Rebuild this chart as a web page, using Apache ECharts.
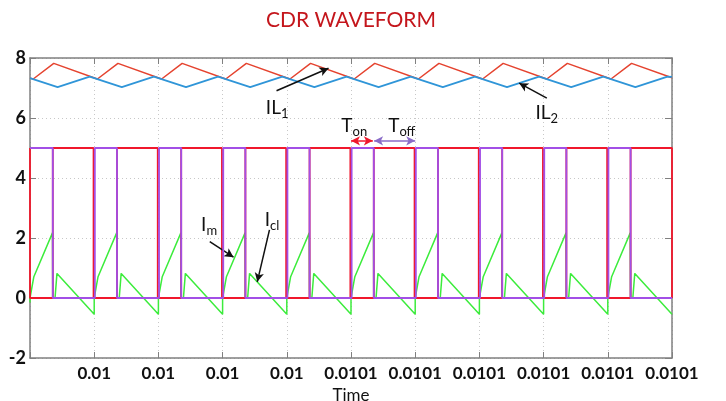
<!DOCTYPE html>
<html>
<head>
<meta charset="utf-8">
<script src="https://cdn.jsdelivr.net/npm/echarts@6/dist/echarts.min.js"></script>
<style>html,body{margin:0;padding:0;background:#fff}#c{width:726px;height:401px}</style>
</head>
<body>
<div id="c"></div>
<script>
// Tick labels along time axis (one per switching period)
var xTickLabels = ['', '0.01', '0.01', '0.01', '0.01', '0.0101', '0.0101', '0.0101', '0.0101', '0.0101', '0.0101'];
var yTicks = [-2, 0, 2, 4, 6, 8];

// Inductor current IL1 (red triangle)
var il1 = [[0,7.33],[0.05,7.30],[0.37,7.82],[1.05,7.30],[1.37,7.82],[2.05,7.30],[2.37,7.82],[3.05,7.30],[3.37,7.82],[4.05,7.30],[4.37,7.82],[5.05,7.30],[5.37,7.82],[6.05,7.30],[6.37,7.82],[7.05,7.30],[7.37,7.82],[8.05,7.30],[8.37,7.82],[9.05,7.30],[9.37,7.82],[10,7.34]];
// Inductor current IL2 (blue triangle)
var il2 = [[0,7.33],[0.43,7.03],[0.93,7.38],[1.43,7.03],[1.93,7.38],[2.43,7.03],[2.93,7.38],[3.43,7.03],[3.93,7.38],[4.43,7.03],[4.93,7.38],[5.43,7.03],[5.93,7.38],[6.43,7.03],[6.93,7.38],[7.43,7.03],[7.93,7.38],[8.43,7.03],[8.93,7.38],[9.43,7.03],[9.93,7.38],[10,7.37]];
// Gate signal 1 (red)
var gate1 = [[0,5],[0,0],[0.355,0],[0.355,5],[0.99,5],[0.99,0],[1.355,0],[1.355,5],[1.99,5],[1.99,0],[2.355,0],[2.355,5],[2.99,5],[2.99,0],[3.355,0],[3.355,5],[3.99,5],[3.99,0],[4.355,0],[4.355,5],[4.99,5],[4.99,0],[5.355,0],[5.355,5],[5.99,5],[5.99,0],[6.355,0],[6.355,5],[6.99,5],[6.99,0],[7.355,0],[7.355,5],[7.99,5],[7.99,0],[8.355,0],[8.355,5],[8.99,5],[8.99,0],[9.355,0],[9.355,5],[10,5],[10,0]];
// Gate signal 2 (purple)
var gate2 = [[0,5],[0.355,5],[0.355,0],[1.01,0],[1.01,5],[1.355,5],[1.355,0],[2.01,0],[2.01,5],[2.355,5],[2.355,0],[3.01,0],[3.01,5],[3.355,5],[3.355,0],[4.01,0],[4.01,5],[4.355,5],[4.355,0],[5.01,0],[5.01,5],[5.355,5],[5.355,0],[6.01,0],[6.01,5],[6.355,5],[6.355,0],[7.01,0],[7.01,5],[7.355,5],[7.355,0],[8.01,0],[8.01,5],[8.355,5],[8.355,0],[9.01,0],[9.01,5],[9.355,5],[9.355,0],[10,0]];
// Main switch current Im (green ramp)
var im = [[0,0],[0.06,0.71],[0.35,2.17],[0.355,0],[1.0,0],[1.06,0.71],[1.35,2.17],[1.355,0],[2.0,0],[2.06,0.71],[2.35,2.17],[2.355,0],[3.0,0],[3.06,0.71],[3.35,2.17],[3.355,0],[4.0,0],[4.06,0.71],[4.35,2.17],[4.355,0],[5.0,0],[5.06,0.71],[5.35,2.17],[5.355,0],[6.0,0],[6.06,0.71],[6.35,2.17],[6.355,0],[7.0,0],[7.06,0.71],[7.35,2.17],[7.355,0],[8.0,0],[8.06,0.71],[8.35,2.17],[8.355,0],[9.0,0],[9.06,0.71],[9.35,2.17],[9.355,0],[10,0]];
// Clamp current Icl (green)
var icl = [[0,-0.15],[0,0],[0.39,0],[0.42,0.82],[1.0,-0.54],[1.0,0],[1.39,0],[1.42,0.82],[2.0,-0.54],[2.0,0],[2.39,0],[2.42,0.82],[3.0,-0.54],[3.0,0],[3.39,0],[3.42,0.82],[4.0,-0.54],[4.0,0],[4.39,0],[4.42,0.82],[5.0,-0.54],[5.0,0],[5.39,0],[5.42,0.82],[6.0,-0.54],[6.0,0],[6.39,0],[6.42,0.82],[7.0,-0.54],[7.0,0],[7.39,0],[7.42,0.82],[8.0,-0.54],[8.0,0],[8.39,0],[8.42,0.82],[9.0,-0.54],[9.0,0],[9.39,0],[9.42,0.82],[10,-0.54]];

var FONT = 'Lato, "Open Sans", sans-serif';
var chart = echarts.init(document.getElementById('c'), null, {renderer: 'canvas'});

function label(coord, main, sub) {
  return {
    coord: coord, symbol: 'circle', symbolSize: 0,
    label: {
      show: true, position: 'inside',
      formatter: '{a|' + main + '}{b|' + sub + '}',
      rich: {
        a: {fontFamily: FONT, fontSize: 19, color: '#111', lineHeight: 22},
        b: {fontFamily: FONT, fontSize: 13, color: '#111', lineHeight: 25, verticalAlign: 'bottom'}
      }
    }
  };
}
function arrow(from, to, color, both) {
  return [
    {coord: from, symbol: both ? 'arrow' : 'none', symbolSize: [7, 9], lineStyle: {color: color, width: 1.5, type: 'solid'}},
    {coord: to, symbol: 'arrow', symbolSize: [7, 9]}
  ];
}

var option = {
  animation: false,
  backgroundColor: '#fff',
  title: {
    text: 'CDR WAVEFORM', left: 346, top: 5, textAlign: 'center',
    textStyle: {fontFamily: FONT, fontSize: 21, fontWeight: 'normal', color: '#c4161c'}
  },
  grid: {left: 30, right: 54, top: 58, bottom: 43, show: false, containLabel: false, outerBoundsMode: 'none'},
  xAxis: [{
    type: 'value', min: 0, max: 10, interval: 1,
    name: 'Time', nameLocation: 'middle', nameGap: 25,
    nameTextStyle: {fontFamily: FONT, fontSize: 17, color: '#111', verticalAlign: 'top'},
    axisLine: {show: true, onZero: false, lineStyle: {color: '#808080', width: 1.5}},
    axisTick: {show: true, inside: true, length: 6, lineStyle: {color: '#808080'}},
    axisLabel: {fontFamily: FONT, fontSize: 17, fontWeight: 'bold', color: '#111', margin: 7,
      formatter: function (v) { return xTickLabels[Math.round(v)]; }},
    splitLine: {show: true, lineStyle: {color: '#c8c8c8', type: [1, 3], width: 1}}
  }, {
    type: 'value', min: 0, max: 10, interval: 1, position: 'top',
    axisLine: {show: true, onZero: false, lineStyle: {color: '#808080', width: 1.5}},
    axisTick: {show: true, inside: true, length: 6, lineStyle: {color: '#808080'}},
    axisLabel: {show: false}, splitLine: {show: false}
  }],
  yAxis: [{
    type: 'value', min: yTicks[0], max: yTicks[yTicks.length - 1], interval: 2,
    axisLine: {show: true, onZero: false, lineStyle: {color: '#808080', width: 1.5}},
    axisTick: {show: true, inside: true, length: 6, lineStyle: {color: '#808080'}},
    axisLabel: {fontFamily: FONT, fontSize: 18, fontWeight: 'bold', color: '#111', margin: 4},
    splitLine: {show: true, lineStyle: {color: '#c8c8c8', type: [1, 3], width: 1}}
  }, {
    type: 'value', min: yTicks[0], max: yTicks[yTicks.length - 1], interval: 2, position: 'right',
    axisLine: {show: true, onZero: false, lineStyle: {color: '#808080', width: 1.5}},
    axisTick: {show: true, inside: true, length: 7, lineStyle: {color: '#808080'}},
    axisLabel: {show: false}, splitLine: {show: false}
  }],
  series: [
    {name: 'IL1', type: 'line', data: il1, symbol: 'none', z: 2, lineStyle: {color: '#e5432f', width: 1.5}},
    {name: 'IL2', type: 'line', data: il2, symbol: 'none', z: 2, lineStyle: {color: '#2f95d8', width: 1.8}},
    {name: 'Im', type: 'line', data: im, symbol: 'none', z: 3, lineStyle: {color: '#3cec3c', width: 1.5}},
    {name: 'Icl', type: 'line', data: icl, symbol: 'none', z: 3, lineStyle: {color: '#3cec3c', width: 1.5}},
    {name: 'Gate1', type: 'line', data: gate1, symbol: 'none', z: 4, lineStyle: {color: '#f0182c', width: 1.8}},
    {name: 'Gate2', type: 'line', data: gate2, symbol: 'none', z: 5, lineStyle: {color: '#a24fe6', width: 1.8},
      markLine: {
        silent: true, animation: false, label: {show: false},
        lineStyle: {color: '#111', width: 1.5, type: 'solid'},
        data: [
          arrow([3.84, 6.91], [4.65, 7.66], '#111', false),
          arrow([8.05, 6.66], [7.62, 7.16], '#111', false),
          arrow([2.80, 1.88], [3.17, 1.36], '#111', false),
          arrow([3.73, 2.27], [3.54, 0.54], '#111', false),
          arrow([5.0, 5.24], [5.34, 5.24], '#f0182c', true),
          arrow([5.36, 5.24], [6.0, 5.24], '#8a6cc8', true)
        ]
      },
      markPoint: {
        silent: true, animation: false,
        data: [
          label([3.85, 6.35], 'IL', '1'),
          label([8.05, 6.18], 'IL', '2'),
          label([5.05, 5.75], 'T', 'on'),
          label([5.79, 5.75], 'T', 'off'),
          label([2.79, 2.45], 'I', 'm'),
          label([3.77, 2.62], 'I', 'cl')
        ]
      }
    }
  ]
};
chart.setOption(option);
</script>
</body>
</html>
